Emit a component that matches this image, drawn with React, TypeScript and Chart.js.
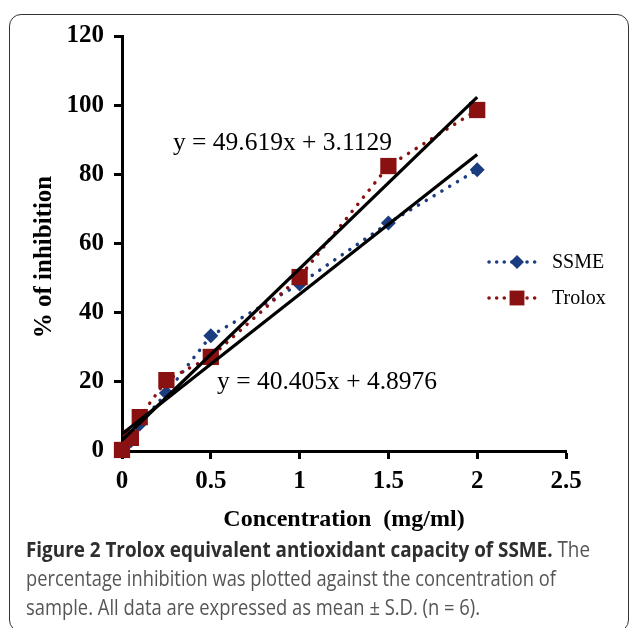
import React, { useEffect, useLayoutEffect, useRef } from 'react';
import { Chart, registerables } from 'chart.js';

Chart.register(...registerables);

// ---- data ----
const concentrations = [0, 0.05, 0.1, 0.25, 0.5, 1, 1.5, 2];
const ssmeValues = [0, 3, 7.8, 16.8, 33.3, 48.3, 65.9, 81.3];
const troloxValues = [0.3, 3.8, 9.8, 20.5, 27.2, 50.3, 82.4, 98.6];
const ssmeFit = { slope: 40.405, intercept: 4.8976 };
const troloxFit = { slope: 49.619, intercept: 3.1129 };
const fitRange = [0, 2];
const xTicks = [0, 0.5, 1, 1.5, 2, 2.5];
const yTicks = [0, 20, 40, 60, 80, 100, 120];
const seriesLabels = ['SSME', 'Trolox'];
const ssmeEquation = 'y = 40.405x + 4.8976';
const troloxEquation = 'y = 49.619x + 3.1129';
const xTitle = 'Concentration  (mg/ml)';
const yTitle = '% of inhibition';

const BLUE = '#1B3C7E';
const RED = '#8A1111';
const SERIF = '"Liberation Serif", "Times New Roman", serif';

function fitLine(fit: { slope: number; intercept: number }) {
  return fitRange.map((x) => ({ x, y: fit.slope * x + fit.intercept }));
}

function drawMarker(ctx: CanvasRenderingContext2D, style: string, x: number, y: number, r: number, color: string) {
  ctx.save();
  ctx.fillStyle = color;
  ctx.beginPath();
  if (style === 'rect') {
    const s = r * Math.SQRT1_2;
    ctx.rect(x - s, y - s, 2 * s, 2 * s);
  } else {
    ctx.moveTo(x, y - r);
    ctx.lineTo(x + r, y);
    ctx.lineTo(x, y + r);
    ctx.lineTo(x - r, y);
    ctx.closePath();
  }
  ctx.fill();
  ctx.restore();
}

const overlayPlugin = {
  id: 'overlay',
  afterDraw(chart: any) {
    const ctx: CanvasRenderingContext2D = chart.ctx;
    const xs = chart.scales.x;
    const ys = chart.scales.y;
    ctx.save();
    // equations
    ctx.fillStyle = '#000';
    ctx.font = `25.5px ${SERIF}`;
    ctx.textAlign = 'left';
    ctx.textBaseline = 'middle';
    ctx.fillText(troloxEquation, xs.getPixelForValue(0.287), ys.getPixelForValue(89));
    ctx.fillText(ssmeEquation, xs.getPixelForValue(0.535), ys.getPixelForValue(20));

    // axis titles
    ctx.font = `bold 24px ${SERIF}`;
    ctx.textAlign = 'center';
    ctx.fillText(xTitle, (chart.chartArea.left + chart.chartArea.right) / 2, 520);
    ctx.save();
    ctx.translate(45, 257);
    ctx.rotate(-Math.PI / 2);
    ctx.font = `bold 25px ${SERIF}`;
    ctx.fillText(yTitle, 0, 0);
    ctx.restore();

    // legend
    const items = [
      { label: seriesLabels[0], color: BLUE, style: 'rectRot', r: 7, y: 262 },
      { label: seriesLabels[1], color: RED, style: 'rect', r: 10.5, y: 298 },
    ];
    items.forEach((it) => {
      ctx.save();
      ctx.strokeStyle = it.color;
      ctx.lineWidth = 3.5;
      ctx.lineCap = 'round';
      ctx.setLineDash([0.1, 7.5]);
      ctx.beginPath();
      ctx.moveTo(489, it.y);
      ctx.lineTo(538, it.y);
      ctx.stroke();
      ctx.restore();
      drawMarker(ctx, it.style, 517, it.y, it.r, it.color);
      ctx.fillStyle = '#000';
      ctx.font = `20px ${SERIF}`;
      ctx.textAlign = 'left';
      ctx.textBaseline = 'middle';
      ctx.fillText(it.label, 552, it.y + 1);
    });
    ctx.restore();
  },
};

function FitText({ width, top, children, style }: any) {
  const ref = useRef<HTMLDivElement>(null);
  useLayoutEffect(() => {
    const el = ref.current;
    if (!el) return;
    el.style.transform = 'none';
    const w = el.getBoundingClientRect().width;
    if (w > 0) el.style.transform = `scaleX(${width / w})`;
  });
  return (
    <div
      ref={ref}
      style={{
        position: 'absolute',
        left: 26,
        top,
        whiteSpace: 'nowrap',
        transformOrigin: '0 0',
        display: 'inline-block',
        ...style,
      }}
    >
      {children}
    </div>
  );
}

export default function App() {
  const canvasRef = useRef<HTMLCanvasElement>(null);

  useEffect(() => {
    const canvas = canvasRef.current;
    if (!canvas) return;
    const tickFont = { family: SERIF, size: 25, weight: 'bold' as const };
    const chart = new Chart(canvas, {
      type: 'scatter',
      data: {
        datasets: [
          {
            label: 'Trolox trend',
            data: fitLine(troloxFit),
            showLine: true,
            borderColor: '#000',
            borderWidth: 3.2,
            pointRadius: 0,
            clip: false,
          } as any,
          {
            label: 'SSME trend',
            data: fitLine(ssmeFit),
            showLine: true,
            borderColor: '#000',
            borderWidth: 3.2,
            pointRadius: 0,
            clip: false,
          } as any,
          {
            label: seriesLabels[1],
            data: concentrations.map((x, i) => ({ x, y: troloxValues[i] })),
            showLine: true,
            borderColor: RED,
            backgroundColor: RED,
            borderWidth: 3.5,
            borderDash: [0.1, 9],
            borderCapStyle: 'round',
            pointStyle: 'rect',
            pointRadius: 11.5,
            pointBorderWidth: 0,
            pointBackgroundColor: RED,
            clip: false,
          } as any,
          {
            label: seriesLabels[0],
            data: concentrations.map((x, i) => ({ x, y: ssmeValues[i] })),
            showLine: true,
            borderColor: BLUE,
            backgroundColor: BLUE,
            borderWidth: 3.5,
            borderDash: [0.1, 9],
            borderCapStyle: 'round',
            pointStyle: 'rectRot',
            pointRadius: 7.5,
            pointBorderWidth: 0,
            pointBackgroundColor: BLUE,
            clip: false,
          } as any,
        ],
      },
      options: {
        animation: false,
        responsive: false,
        maintainAspectRatio: false,
        layout: { padding: { top: 36, right: 63, left: 0, bottom: 0 } },
        plugins: { legend: { display: false }, tooltip: { enabled: false } },
        scales: {
          x: {
            type: 'linear',
            min: 0,
            max: 2.5,
            afterBuildTicks: (s: any) => {
              s.ticks = xTicks.map((v) => ({ value: v }));
            },
            afterFit: (s: any) => {
              s.height = 89;
            },
            ticks: {
              font: tickFont,
              color: '#000',
              padding: 8,
              callback: (v: any) => String(v),
            },
            grid: {
              drawOnChartArea: false,
              drawTicks: true,
              tickLength: 8,
              tickColor: '#000',
              tickWidth: 3,
              color: '#000',
            },
            border: { color: '#000', width: 3 },
          },
          y: {
            type: 'linear',
            min: 0,
            max: 120,
            afterBuildTicks: (s: any) => {
              s.ticks = yTicks.map((v) => ({ value: v }));
            },
            afterFit: (s: any) => {
              s.width = 122;
            },
            ticks: {
              font: tickFont,
              color: '#000',
              padding: 10,
              callback: (v: any) => String(v),
            },
            grid: {
              drawOnChartArea: false,
              drawTicks: true,
              tickLength: 8,
              tickColor: '#000',
              tickWidth: 3,
              color: '#000',
            },
            border: { color: '#000', width: 3 },
          },
        },
      },
      plugins: [overlayPlugin],
    });
    return () => chart.destroy();
  }, []);

  const capFont = '"Open Sans", "Noto Sans", sans-serif';
  const capStyle = { fontFamily: capFont, fontSize: 21, color: '#555', lineHeight: '28px' };
  return (
    <div
      style={{
        position: 'fixed',
        left: 0,
        top: 0,
        width: 629,
        height: 628,
        overflow: 'hidden',
        background: '#fff',
      }}
    >
      <div
        style={{
          position: 'absolute',
          left: 9,
          top: 14,
          width: 620,
          height: 618,
          boxSizing: 'border-box',
          border: '1.5px solid #333',
          borderRadius: 12,
        }}
      />
      <canvas
        ref={canvasRef}
        width={629}
        height={540}
        style={{ position: 'absolute', left: 0, top: 0, width: 629, height: 540 }}
      />
      <FitText width={564} top={535} style={capStyle}>
        <span style={{ fontWeight: 700, color: '#2e2e2e' }}>
          Figure 2 Trolox equivalent antioxidant capacity of SSME.
        </span>{' '}
        The
      </FitText>
      <FitText width={530} top={564} style={capStyle}>
        percentage inhibition was plotted against the concentration of
      </FitText>
      <FitText width={454} top={593} style={capStyle}>
        sample. All data are expressed as mean ± S.D. (n = 6).
      </FitText>
    </div>
  );
}
